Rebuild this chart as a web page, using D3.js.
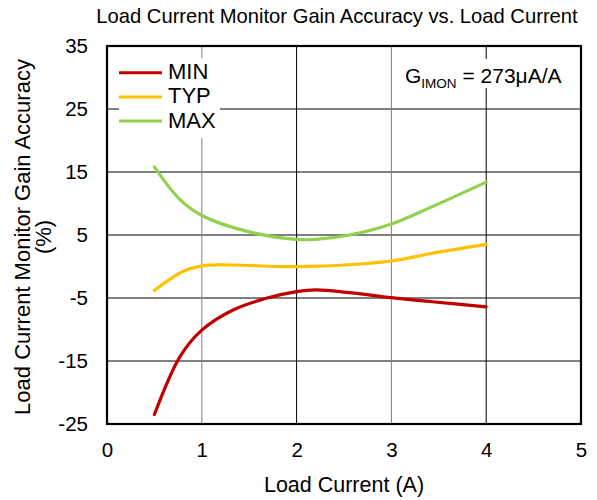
<!DOCTYPE html>
<html><head><meta charset="utf-8">
<script src="https://cdn.jsdelivr.net/npm/d3@7"></script>
<style>body{margin:0;background:#fff}svg{display:block}text{font-family:Arial,"Liberation Sans",sans-serif;fill:#000}</style>
</head><body><svg id="c" width="597" height="500"></svg>
<script>
const xTicks = [0,1,2,3,4,5];
const yTicks = [-25,-15,-5,5,15,25,35];
const seriesNames = ["MIN","TYP","MAX"];
const seriesColors = ["#C00000","#FFC000","#92D050"];
const minX = [0.5,0.77,1.0,1.33,1.68,2.0,2.2,2.56,3.0,3.43,4.0];
const minY = [-23.5,-14.3,-10.1,-6.9,-5.05,-4.0,-3.7,-4.15,-4.95,-5.6,-6.4];
const typX = [0.5,0.8,1.0,1.33,2.0,3.0,3.43,4.0];
const typY = [-3.8,-0.8,0.1,0.24,-0.03,0.87,2.1,3.5];
const maxX = [0.5,0.77,1.0,1.5,2.0,2.2,2.56,3.0,3.43,4.0];
const maxY = [15.8,10.6,8.1,5.5,4.3,4.3,5.0,6.75,9.5,13.4];

const FONT = "Arial,'Liberation Sans',sans-serif";
const svg = d3.select("#c");
const L=107,R=581,T=46,B=424;
const x = d3.scaleLinear().domain([0,5]).range([L,R]);
const y = d3.scaleLinear().domain([-25,35]).range([B,T]);

// grid
svg.append("g").selectAll("line").data(yTicks).join("line")
  .attr("x1",L).attr("x2",R).attr("y1",d=>y(d)).attr("y2",d=>y(d))
  .attr("stroke","#000").attr("stroke-width",1);
svg.append("g").selectAll("line").data(xTicks).join("line")
  .attr("x1",d=>x(d)).attr("x2",d=>x(d)).attr("y1",T).attr("y2",B)
  .attr("stroke",d=>d%2===1?"#7f7f7f":"#000").attr("stroke-width",1);

// legend / annotation backgrounds
svg.append("rect").attr("x",119).attr("y",58).attr("width",101).attr("height",80).attr("fill","#fff");
svg.append("rect").attr("x",400).attr("y",59).attr("width",163).attr("height",29).attr("fill","#fff");

// border
svg.append("rect").attr("x",L).attr("y",T).attr("width",R-L).attr("height",B-T)
  .attr("fill","none").attr("stroke","#000").attr("stroke-width",2.2);

// axes labels via d3 axes
const xa = svg.append("g").attr("transform",`translate(0,${B})`)
  .call(d3.axisBottom(x).tickValues(xTicks).tickSize(0).tickPadding(18).tickFormat(d=>String(d)));
xa.select(".domain").remove();
xa.selectAll("text").attr("font-size",20.5).attr("font-family",FONT).attr("fill","#000");
const ya = svg.append("g").attr("transform",`translate(${L},0)`)
  .call(d3.axisLeft(y).tickValues(yTicks).tickSize(0).tickPadding(19).tickFormat(d=>String(d)));
ya.select(".domain").remove();
ya.selectAll("text").attr("font-size",20.5).attr("font-family",FONT).attr("fill","#000");

// series
const data = [
  {name:seriesNames[0],color:seriesColors[0],pts:minX.map((v,i)=>[v,minY[i]])},
  {name:seriesNames[1],color:seriesColors[1],pts:typX.map((v,i)=>[v,typY[i]])},
  {name:seriesNames[2],color:seriesColors[2],pts:maxX.map((v,i)=>[v,maxY[i]])}
];
const line = d3.line().x(d=>x(d[0])).y(d=>y(d[1])).curve(d3.curveCatmullRom.alpha(0.5));
svg.append("g").selectAll("path").data(data).join("path")
  .attr("d",d=>line(d.pts)).attr("fill","none").attr("stroke",d=>d.color)
  .attr("stroke-width",3.2).attr("stroke-linecap","round");

// legend
const lg = svg.append("g").selectAll("g").data(data).join("g")
  .attr("transform",(d,i)=>`translate(0,${72.7+i*24.2})`);
lg.append("line").attr("x1",119).attr("x2",162).attr("y1",0).attr("y2",0)
  .attr("stroke",d=>d.color).attr("stroke-width",3);
lg.append("text").attr("x",168).attr("y",6.5).attr("font-size",22).text(d=>d.name);

// annotation
const an = svg.append("text").attr("x",405).attr("y",83).attr("font-size",21);
an.append("tspan").text("G");
an.append("tspan").attr("font-size",13.5).attr("dy",4.5).text("IMON");
an.append("tspan").attr("dy",-4.5).text(" = 273μA/A");

// titles
svg.append("text").attr("x",337).attr("y",23).attr("text-anchor","middle").attr("font-size",20.2)
  .text("Load Current Monitor Gain Accuracy vs. Load Current");
svg.append("text").attr("x",344).attr("y",492).attr("text-anchor","middle").attr("font-size",21.5)
  .text("Load Current (A)");
svg.append("text").attr("transform","translate(30,237) rotate(-90)").attr("text-anchor","middle").attr("font-size",22)
  .text("Load Current Monitor Gain Accuracy");
svg.append("text").attr("transform","translate(51,237) rotate(-90)").attr("text-anchor","middle").attr("font-size",22)
  .text("(%)");
</script></body></html>
